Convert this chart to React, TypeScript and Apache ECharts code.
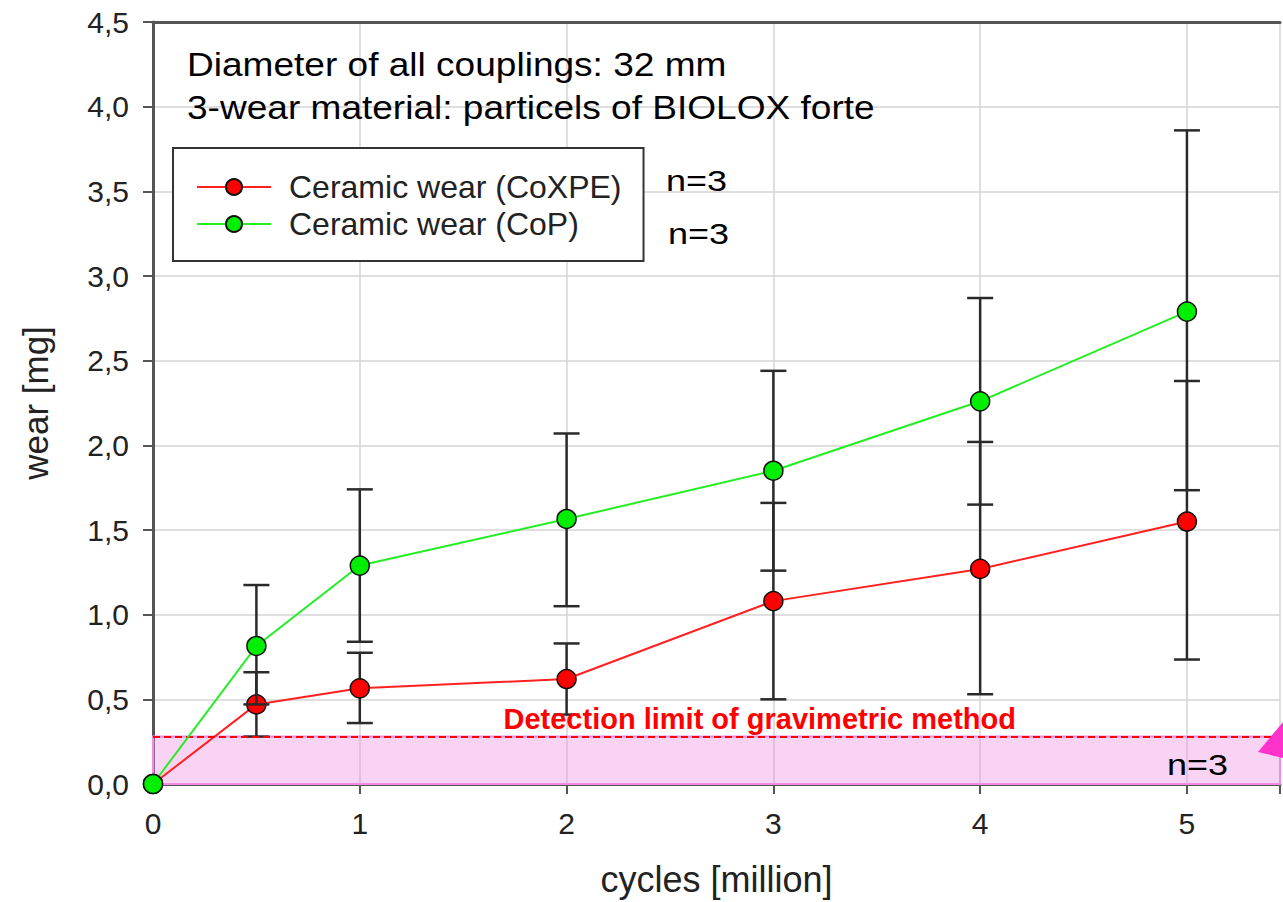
import React, { useEffect, useRef } from "react";
import * as echarts from "echarts";

// ---- data ----
const cycles = [0, 0.5, 1, 2, 3, 4, 5];
const coxpeWear = [0, 0.47, 0.565, 0.62, 1.08, 1.27, 1.55];
const coxpeLow = [0, 0.28, 0.36, 0.41, 0.5, 0.53, 0.735];
const coxpeHigh = [0, 0.66, 0.775, 0.83, 1.66, 2.02, 2.38];
const copWear = [0, 0.815, 1.29, 1.565, 1.85, 2.26, 2.79];
const copLow = [0, 0.47, 0.84, 1.05, 1.26, 1.65, 1.735];
const copHigh = [0, 1.175, 1.74, 2.07, 2.44, 2.87, 3.86];
const detectionLimit = 0.28;
const xMax = 5.45;
const yTicks = [0, 0.5, 1, 1.5, 2, 2.5, 3, 3.5, 4, 4.5];

const seriesNames = ["Ceramic wear (CoXPE)", "Ceramic wear (CoP)"];
const infoLines = [
  "Diameter of all couplings: 32 mm",
  "3-wear material: particels of BIOLOX forte",
];
const nLabel = "n=3";
const detectionText = "Detection limit of gravimetric method";

const FONT = "'Liberation Sans', Arial, Helvetica, sans-serif";

function errorRows(low: number[], high: number[]) {
  return cycles
    .map((x, i) => [x, low[i], high[i]])
    .filter((r) => r[2] > r[1]);
}

function renderErrorBar(params: any, api: any) {
  const x = api.value(0);
  const lo = api.coord([x, api.value(1)]);
  const hi = api.coord([x, api.value(2)]);
  const half = 13;
  const style = { stroke: "#2a2a2a", lineWidth: 2.5 };
  return {
    type: "group",
    children: [
      { type: "line", shape: { x1: lo[0], y1: lo[1], x2: hi[0], y2: hi[1] }, style },
      { type: "line", shape: { x1: hi[0] - half, y1: hi[1], x2: hi[0] + half, y2: hi[1] }, style },
      { type: "line", shape: { x1: lo[0] - half, y1: lo[1], x2: lo[0] + half, y2: lo[1] }, style },
    ],
  };
}

export default function App() {
  const ref = useRef<HTMLDivElement>(null);

  useEffect(() => {
    if (!ref.current) return;
    const chart = echarts.init(ref.current, null, { renderer: "svg" });
    const axisColor = "#555";
    const option: any = {
      animation: false,
      backgroundColor: "#ffffff",
      textStyle: { fontFamily: FONT },
      grid: { left: 153, top: 22, right: 0, bottom: 115 },
      legend: {
        data: seriesNames,
        orient: "vertical",
        left: 173,
        top: 148,
        backgroundColor: "#ffffff",
        borderColor: "#333",
        borderWidth: 2,
        borderRadius: 0,
        padding: [23, 22, 21, 23],
        itemWidth: 74,
        itemHeight: 20,
        itemGap: 5,
        textStyle: { fontSize: 32, color: "#222", fontFamily: FONT, padding: [0, 0, 0, 13] },
      },
      xAxis: [
        {
          type: "value",
          min: 0,
          max: xMax,
          interval: 1,
          name: "cycles [million]",
          nameLocation: "middle",
          nameGap: 77,
          nameTextStyle: { fontSize: 36, color: "#222", fontFamily: FONT },
          axisLine: { show: true, lineStyle: { color: axisColor, width: 3 } },
          axisTick: { show: true, length: 10, lineStyle: { color: axisColor, width: 2 } },
          axisLabel: {
            fontSize: 30,
            color: "#222",
            margin: 24,
            fontFamily: FONT,
            formatter: (v: number) => (Number.isInteger(v) ? String(v) : ""),
          },
          splitLine: { show: true, lineStyle: { color: "#d4d4d4", width: 1.5 } },
        },
        {
          type: "value",
          position: "top",
          min: 0,
          max: xMax,
          axisLine: { show: true, onZero: false, lineStyle: { color: axisColor, width: 3 } },
          axisTick: { show: false },
          axisLabel: { show: false },
          splitLine: { show: false },
        },
      ],
      yAxis: {
        type: "value",
        min: 0,
        max: 4.5,
        interval: 0.5,
        name: "wear [mg]",
        nameLocation: "middle",
        nameGap: 100,
        nameTextStyle: { fontSize: 35, color: "#222", fontFamily: FONT },
        axisLine: { show: true, lineStyle: { color: axisColor, width: 3 } },
        axisTick: { show: true, length: 10, lineStyle: { color: axisColor, width: 2 } },
        axisLabel: {
          fontSize: 30,
          color: "#222",
          margin: 24,
          fontFamily: FONT,
          formatter: (v: number) =>
            yTicks.includes(Number(v.toFixed(1))) ? v.toFixed(1).replace(".", ",") : "",
        },
        splitLine: { show: true, lineStyle: { color: "#d4d4d4", width: 1.5 } },
      },
      series: [
        {
          name: "detection",
          type: "line",
          data: [],
          z: 1,
          silent: true,
          markArea: {
            silent: true,
            itemStyle: {
              color: "rgba(240,140,225,0.38)",
              borderColor: "#f08ce8",
              borderWidth: 2,
            },
            data: [[{ coord: [0, 0] }, { coord: [xMax, detectionLimit] }]],
          },
          markLine: {
            silent: true,
            symbol: "none",
            label: { show: false },
            lineStyle: { color: "#ff0000", type: [7, 4], width: 2 },
            data: [[{ coord: [0, detectionLimit] }, { coord: [xMax, detectionLimit] }]],
          },
          markPoint: {
            silent: true,
            symbol: "circle",
            symbolSize: 0,
            data: [{ coord: [2.934, detectionLimit] }],
            label: {
              show: true,
              position: "top",
              distance: 3,
              formatter: detectionText,
              color: "#ff0000",
              fontWeight: "bold",
              fontSize: 29,
              fontFamily: FONT,
            },
          },
        },
        {
          name: "errCoXPE",
          type: "custom",
          z: 2,
          silent: true,
          renderItem: renderErrorBar,
          data: errorRows(coxpeLow, coxpeHigh),
        },
        {
          name: seriesNames[0],
          type: "line",
          z: 3,
          data: cycles.map((x, i) => [x, coxpeWear[i]]),
          symbol: "circle",
          symbolSize: 19,
          lineStyle: { color: "#ff2020", width: 2 },
          itemStyle: { color: "#ff0000", borderColor: "#111", borderWidth: 1.5 },
        },
        {
          name: "errCoP",
          type: "custom",
          z: 4,
          silent: true,
          renderItem: renderErrorBar,
          data: errorRows(copLow, copHigh),
        },
        {
          name: seriesNames[1],
          type: "line",
          z: 5,
          data: cycles.map((x, i) => [x, copWear[i]]),
          symbol: "circle",
          symbolSize: 19,
          lineStyle: { color: "#22ee22", width: 2 },
          itemStyle: { color: "#00ee00", borderColor: "#111", borderWidth: 1.5 },
        },
      ],
      graphic: [
        {
          type: "text",
          x: 187,
          y: 65,
          scaleX: 1.09,
          z: 10,
          style: {
            text: infoLines[0],
            font: `34px ${FONT}`,
            fill: "#000",
            verticalAlign: "middle",
          },
        },
        {
          type: "text",
          x: 187,
          y: 108,
          scaleX: 1.09,
          z: 10,
          style: {
            text: infoLines[1],
            font: `34px ${FONT}`,
            fill: "#000",
            verticalAlign: "middle",
          },
        },
        {
          type: "text",
          x: 666,
          y: 181,
          scaleX: 1.2,
          z: 10,
          style: { text: nLabel, font: `30px ${FONT}`, fill: "#000", verticalAlign: "middle" },
        },
        {
          type: "text",
          x: 668,
          y: 234,
          scaleX: 1.2,
          z: 10,
          style: { text: nLabel, font: `30px ${FONT}`, fill: "#000", verticalAlign: "middle" },
        },
        {
          type: "text",
          x: 1167,
          y: 765,
          scaleX: 1.2,
          z: 10,
          style: { text: nLabel, font: `30px ${FONT}`, fill: "#000", verticalAlign: "middle" },
        },
        {
          type: "polygon",
          z: 10,
          shape: { points: [[1258, 752], [1283, 722], [1283, 758]] },
          style: { fill: "#ff33cc" },
        },
      ],
    };
    chart.setOption(option);
    return () => chart.dispose();
  }, []);

  return (
    <div
      ref={ref}
      style={{ position: "absolute", left: 0, top: 0, width: 1283, height: 902 }}
    />
  );
}
